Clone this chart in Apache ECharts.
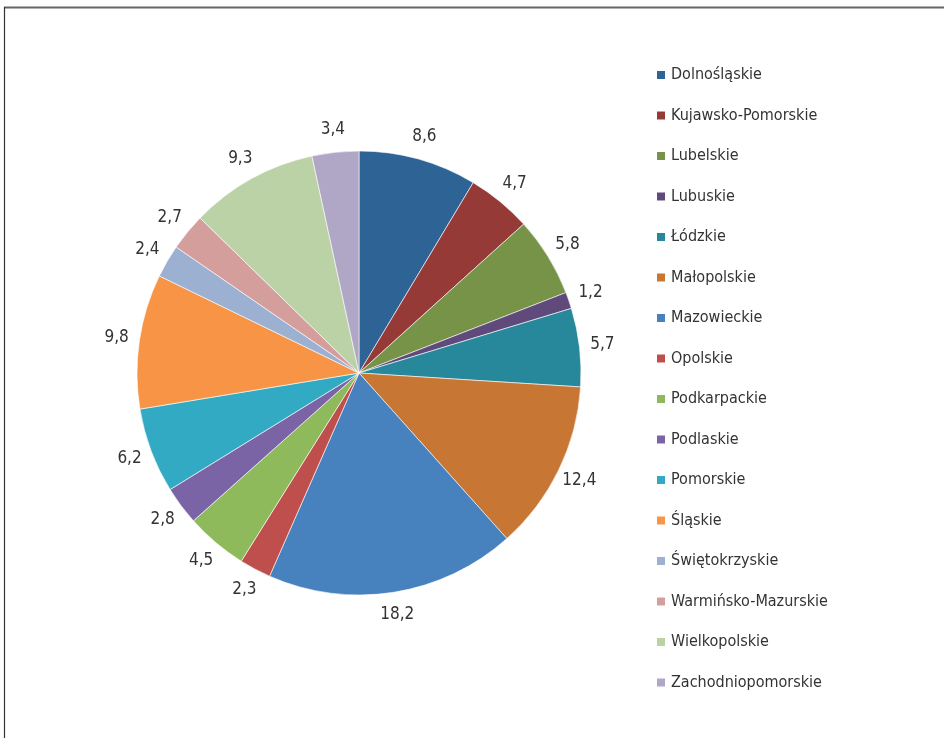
<!DOCTYPE html>
<html>
<head>
<meta charset="utf-8">
<script src="https://cdn.jsdelivr.net/npm/echarts@6/dist/echarts.min.js"></script>
<style>
html,body{margin:0;padding:0;background:#fff;}
#chart{width:944px;height:738px;}
</style>
</head>
<body>
<div id="chart"></div>
<script>
var categories = ['Dolnośląskie','Kujawsko-Pomorskie','Lubelskie','Lubuskie','Łódzkie','Małopolskie','Mazowieckie','Opolskie','Podkarpackie','Podlaskie','Pomorskie','Śląskie','Świętokrzyskie','Warmińsko-Mazurskie','Wielkopolskie','Zachodniopomorskie'];
var values = [8.6,4.7,5.8,1.2,5.7,12.4,18.2,2.3,4.5,2.8,6.2,9.8,2.4,2.7,9.3,3.4];
var colors = ['#2E6395','#963A38','#779347','#604A7B','#27879B','#C87633','#4781BE','#BE4F4C','#8FBA5C','#7B64A6','#32AAC3','#F79446','#9CB1D2','#D49E9D','#BBD1A6','#AFA7C5'];

var FONT = '"DejaVu Sans Condensed", "DejaVu Sans", sans-serif';
var CX = 359, CY = 373, R = 222, LR = 245;
var total = values.reduce(function(a,b){return a+b;},0);
var cum = [];
(function(){ var s=0; for (var i=0;i<values.length;i++){ cum.push(s); s+=values[i]; } })();

var chart = echarts.init(document.getElementById('chart'), null, {renderer:'canvas'});
chart.setOption({
  backgroundColor:'#fff',
  animation:false,
  color: colors,
  graphic:[
    {type:'line', shape:{x1:4, y1:7.5, x2:944, y2:7.5}, style:{stroke:'#666', lineWidth:2}},
    {type:'line', shape:{x1:4.5, y1:7, x2:4.5, y2:738}, style:{stroke:'#333', lineWidth:1.2}}
  ],
  legend:{
    orient:'vertical',
    left:655, top:67,
    padding:0,
    itemWidth:10, itemHeight:10,
    itemGap:24.5,
    icon:'rect',
    textStyle:{fontFamily:FONT, fontSize:16, color:'#333', lineHeight:16},
    data: categories
  },
  series:[{
    type:'pie',
    center:[CX, CY],
    radius:R,
    startAngle:90,
    clockwise:true,
    avoidLabelOverlap:false,
    itemStyle:{borderColor:'#fff', borderWidth:0.6},
    label:{
      show:true,
      position:'outside',
      formatter:function(p){ return String(p.value).replace('.',','); },
      fontFamily:FONT, fontSize:17, color:'#333'
    },
    labelLine:{show:false},
    labelLayout:function(p){
      var i = p.dataIndex;
      var a = (cum[i] + values[i]/2) / total * Math.PI * 2;
      return {x: CX + LR*Math.sin(a), y: CY - LR*Math.cos(a), align:'center', verticalAlign:'middle'};
    },
    emphasis:{disabled:true},
    data: categories.map(function(c,i){ return {name:c, value:values[i]}; })
  }]
});
</script>
</body>
</html>
